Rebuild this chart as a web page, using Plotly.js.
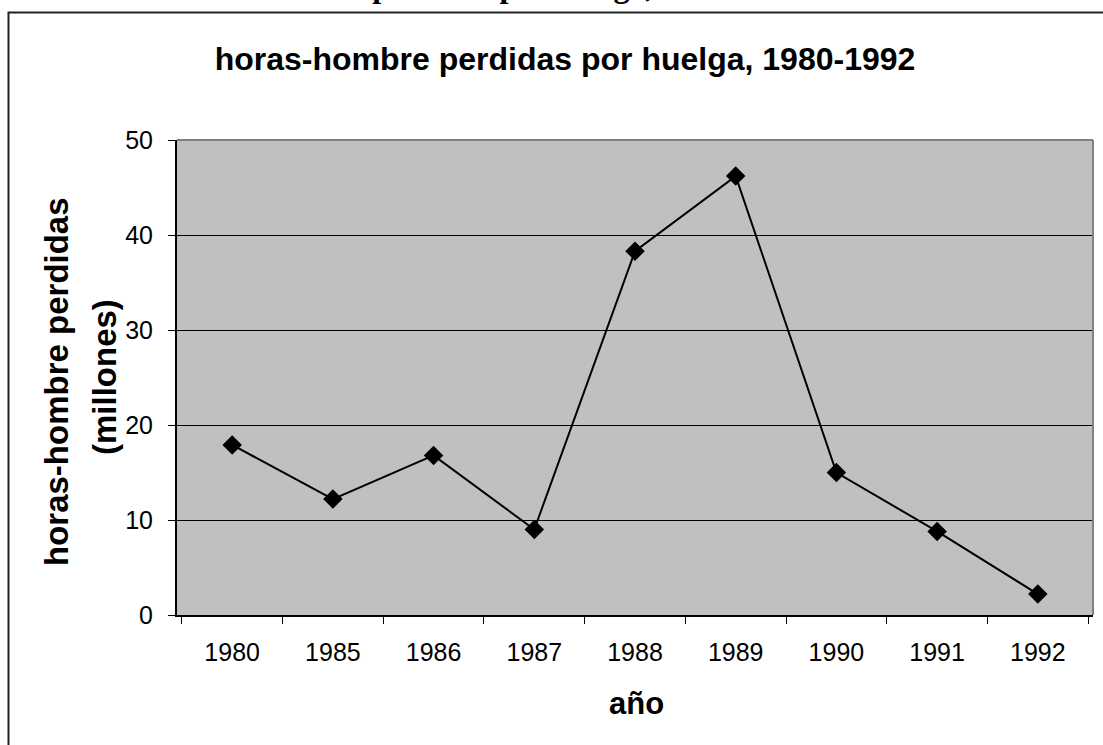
<!DOCTYPE html>
<html>
<head>
<meta charset="utf-8">
<script src="https://cdn.plot.ly/plotly-3.0.1.min.js"></script>
<style>html,body{margin:0;padding:0;background:#fff;}#chart{width:1103px;height:745px;}</style>
</head>
<body>
<div id="chart"></div>
<script>
var years = ["1980", "1985", "1986", "1987", "1988", "1989", "1990", "1991", "1992"];
var hours = [17.9, 12.2, 16.8, 9.0, 38.3, 46.2, 15.0, 8.8, 2.2];
var yTicks = [0, 10, 20, 30, 40, 50];

var L = 177, R = 1093, T = 140, B = 615, W = 1103, H = 745;
function px(x) { return (x - L) / (R - L); }
function py(y) { return (B - y) / (B - T); }

var trace = {
  x: years, y: hours, type: 'scatter', mode: 'lines+markers',
  line: {color: '#000', width: 2},
  marker: {symbol: 'diamond', size: 15, color: '#000'},
  hoverinfo: 'x+y'
};

var layout = {
  width: W, height: H,
  margin: {l: L, r: W - R, t: T, b: H - B},
  paper_bgcolor: '#fff', plot_bgcolor: '#c0c0c0',
  showlegend: false,
  font: {family: 'Liberation Sans, Arial, sans-serif', color: '#000', size: 26},
  title: {
    text: '<b>horas-hombre perdidas por huelga, 1980-1992</b>',
    font: {size: 32, family: 'Liberation Sans, Arial, sans-serif', color: '#000'},
    xref: 'container', x: 565 / W, xanchor: 'center',
    yref: 'container', y: 1 - 59 / H, yanchor: 'middle'
  },
  xaxis: {
    type: 'category', tickson: 'boundaries', ticks: 'outside', ticklen: 7, tickwidth: 1, tickcolor: '#000',
    showline: true, linecolor: '#000', linewidth: 2, showgrid: false, zeroline: false,
    tickfont: {size: 25}, ticklabelstandoff: 14, fixedrange: true
  },
  yaxis: {
    range: [0, 50], tickvals: yTicks, ticktext: yTicks.map(String), ticks: 'outside', ticklen: 7, tickcolor: '#000',
    showline: true, linecolor: '#000', linewidth: 2, showgrid: true, gridcolor: '#000', gridwidth: 1,
    zeroline: false, tickfont: {size: 25}, ticklabelstandoff: 10, fixedrange: true
  },
  shapes: [
    {type: 'line', xref: 'paper', yref: 'paper', x0: 0, x1: 1, y0: 1, y1: 1, line: {color: '#808080', width: 2}},
    {type: 'line', xref: 'paper', yref: 'paper', x0: 1, x1: 1, y0: 0, y1: 1, line: {color: '#808080', width: 2}},
    {type: 'rect', xref: 'paper', yref: 'paper', x0: px(8.5), x1: px(1130), y0: py(12.5), y1: py(780), line: {color: '#222', width: 2}, fillcolor: 'rgba(0,0,0,0)'}
  ],
  annotations: [
    {text: '<b>horas-hombre perdidas</b>', xref: 'paper', yref: 'paper', x: px(56), y: py(382), textangle: -90,
     showarrow: false, font: {size: 33}, xanchor: 'center', yanchor: 'middle'},
    {text: '<b>(millones)</b>', xref: 'paper', yref: 'paper', x: px(104), y: py(377), textangle: -90,
     showarrow: false, font: {size: 33}, xanchor: 'center', yanchor: 'middle'},
    {text: '<b>año</b>', xref: 'paper', yref: 'paper', x: px(636), y: py(703),
     showarrow: false, font: {size: 31}, xanchor: 'center', yanchor: 'middle'},
    {text: '<b>Horas-hombre perdidas por huelga, 1980-1992</b>', xref: 'paper', yref: 'paper', x: px(162), y: py(6),
     showarrow: false, font: {size: 32, family: 'Liberation Serif, Times New Roman, serif'}, xanchor: 'left', yanchor: 'bottom'}
  ]
};

Plotly.newPlot('chart', [trace], layout, {displayModeBar: false, staticPlot: true});
</script>
</body>
</html>
